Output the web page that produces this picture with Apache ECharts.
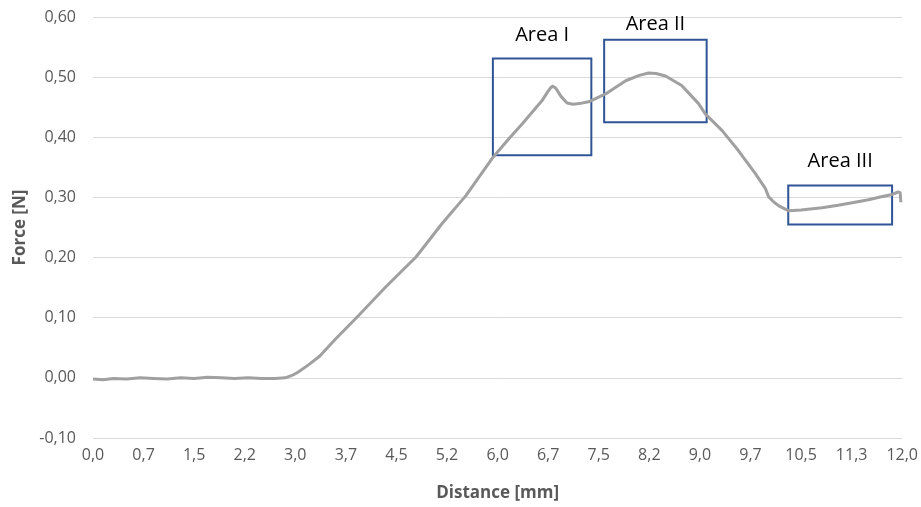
<!DOCTYPE html>
<html lang="en">
<head>
<meta charset="UTF-8">
<title>Force vs distance</title>
<style>
  html, body { margin: 0; padding: 0; background: #fff; }
  #main { width: 921px; height: 507px; }
</style>
</head>
<body>
<div id="main"></div>
<script src="https://cdn.jsdelivr.net/npm/echarts@6/dist/echarts.min.js"></script>
<script>
// measured curve (distance in mm, force in N)
var distance = [0.00, 0.15, 0.30, 0.50, 0.70, 0.90, 1.10, 1.30, 1.50, 1.70, 1.90, 2.10, 2.30, 2.50, 2.70, 2.85,
  2.95, 3.05, 3.20, 3.36, 3.60, 3.90, 4.34, 4.79, 5.18, 5.53, 5.92, 6.17, 6.37, 6.66, 6.74, 6.79, 6.82, 6.86, 6.90, 6.94,
  7.03, 7.12, 7.21, 7.35, 7.60, 7.90, 8.10, 8.24, 8.35, 8.49, 8.73, 8.98, 9.08, 9.33, 9.57, 9.82, 9.97, 10.02,
  10.10, 10.17, 10.31, 10.50, 10.81, 11.05, 11.30, 11.50, 11.69, 11.85, 11.94, 11.97, 11.98];
var force = [-0.002, -0.003, -0.001, -0.002, 0.000, -0.001, -0.002, 0.000, -0.001, 0.001, 0.000, -0.001, 0.000, -0.001, -0.001, 0.000,
  0.004, 0.010, 0.022, 0.036, 0.065, 0.099, 0.151, 0.201, 0.257, 0.303, 0.365, 0.398, 0.423, 0.461, 0.475, 0.483, 0.485, 0.482, 0.475, 0.468,
  0.457, 0.455, 0.456, 0.459, 0.472, 0.494, 0.503, 0.507, 0.506, 0.502, 0.486, 0.456, 0.439, 0.411, 0.378, 0.340, 0.315, 0.301,
  0.292, 0.286, 0.278, 0.279, 0.283, 0.287, 0.292, 0.296, 0.301, 0.305, 0.309, 0.308, 0.292];

var xTickLabels = ['0,0', '0,7', '1,5', '2,2', '3,0', '3,7', '4,5', '5,2', '6,0', '6,7', '7,5', '8,2', '9,0', '9,7', '10,5', '11,3', '12,0'];

// highlighted regions: [x from, x to], [y from, y to]
var areaNames = ['Area I', 'Area II', 'Area III'];
var areaX = [[5.93, 7.39], [7.58, 9.10], [10.31, 11.85]];
var areaY = [[0.370, 0.531], [0.425, 0.562], [0.255, 0.320]];
var labelGap = [12, 5, 13];

var chart = echarts.init(document.getElementById('main'));

var points = distance.map(function (d, i) { return [d, force[i]]; });

var boxes = areaNames.map(function (name, i) {
  return [
    { name: name, xAxis: areaX[i][0], yAxis: areaY[i][1], label: { distance: labelGap[i] } },
    { xAxis: areaX[i][1], yAxis: areaY[i][0] }
  ];
});

var axisText = { color: '#595959', fontFamily: 'Open Sans', fontSize: 16 };

chart.setOption({
  animation: false,
  grid: { left: 93, right: 17, top: 17, bottom: 68 },
  xAxis: {
    type: 'value',
    min: 0, max: 12, interval: 0.75,
    name: 'Distance [mm]',
    nameLocation: 'middle',
    nameGap: 47,
    nameTextStyle: { color: '#595959', fontFamily: 'Open Sans', fontSize: 17, fontWeight: 'bold' },
    axisLine: { show: false },
    axisTick: { show: false },
    splitLine: { show: false },
    axisLabel: Object.assign({
      margin: 9,
      formatter: function (v) { return xTickLabels[Math.round(v / 0.75)]; }
    }, axisText)
  },
  yAxis: {
    type: 'value',
    min: -0.1, max: 0.6, interval: 0.1,
    name: 'Force [N]',
    nameLocation: 'middle',
    nameGap: 62,
    nameTextStyle: { color: '#595959', fontFamily: 'Open Sans', fontSize: 17, fontWeight: 'bold' },
    axisLine: { show: false },
    axisTick: { show: false },
    splitLine: { lineStyle: { color: '#d9d9d9', width: 1 } },
    axisLabel: Object.assign({
      margin: 17,
      formatter: function (v) { return v.toFixed(2).replace('.', ','); }
    }, axisText)
  },
  series: [{
    type: 'line',
    data: points,
    showSymbol: false,
    smooth: false,
    lineStyle: { color: '#a0a0a0', width: 3, join: 'round' },
    itemStyle: { color: '#a0a0a0' },
    markArea: {
      silent: true,
      itemStyle: { color: 'rgba(0,0,0,0)', borderColor: '#2f5597', borderWidth: 2 },
      label: {
        show: true,
        position: 'top',
        color: '#000',
        fontFamily: 'Open Sans',
        fontSize: 20
      },
      data: boxes
    }
  }]
});
</script>
</body>
</html>
